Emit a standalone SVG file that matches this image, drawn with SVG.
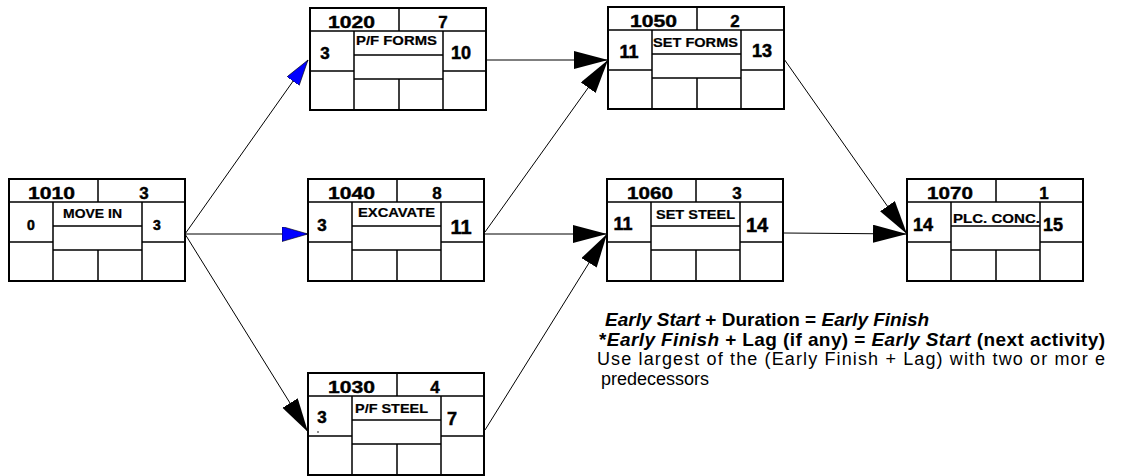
<svg xmlns="http://www.w3.org/2000/svg" xmlns:xlink="http://www.w3.org/1999/xlink" width="1138" height="476" viewBox="0 0 1138 476">
<style>
.ln{stroke:#000;stroke-width:1.5;fill:none}
.ob{stroke:#000;stroke-width:2;fill:#fff}
.hd{font-family:"Liberation Sans",Arial,sans-serif;font-weight:bold;font-size:17px;fill:#000;stroke:#000;stroke-width:0.4}
.nm{font-family:"Liberation Sans",Arial,sans-serif;font-weight:bold;font-size:12px;fill:#000;stroke:#000;stroke-width:0.2}
.es{font-family:"Liberation Sans",Arial,sans-serif;font-weight:bold;font-size:18px;fill:#000;text-anchor:middle;stroke:#000;stroke-width:0.5}
.tx{font-family:"Liberation Sans",Arial,sans-serif;font-size:18px;fill:#000}
.b{font-weight:bold;font-size:19px}
.bi{font-weight:bold;font-style:italic}
.cn{stroke:#000;stroke-width:1;fill:none}
</style>
<defs>
<marker id="ab" markerUnits="userSpaceOnUse" markerWidth="28" markerHeight="16" refX="26" refY="7.5" orient="auto" viewBox="0 0 28 16">
<path d="M0,0 L26,7.5 L0,15 z" fill="#0000ff" stroke="#000" stroke-width="0.6"/>
</marker>
<marker id="ak" markerUnits="userSpaceOnUse" markerWidth="36" markerHeight="20" refX="34" refY="9" orient="auto" viewBox="0 0 36 20">
<path d="M0,0 L34,9 L0,18 z" fill="#000"/>
</marker>
<g id="grid">
<rect class="ob" x="0" y="0" width="176" height="102"/>
<path class="ln" d="M0,23H176M89,0V23M44,23V102M133,23V102M44,47H133M44,71H133M0,63H44M133,63H176M89,71V102"/>
</g>
</defs>
<g id="connectors">
<line class="cn" x1="185" y1="234" x2="308" y2="60" marker-end="url(#ab)"/>
<line class="cn" x1="185" y1="234" x2="308" y2="234" marker-end="url(#ab)"/>
<line class="cn" x1="185" y1="234" x2="308" y2="432" marker-end="url(#ak)"/>
<line class="cn" x1="485" y1="60" x2="608" y2="60" marker-end="url(#ak)"/>
<line class="cn" x1="485" y1="232" x2="608" y2="60" marker-end="url(#ak)"/>
<line class="cn" x1="485" y1="234" x2="607" y2="234" marker-end="url(#ak)"/>
<line class="cn" x1="485" y1="430" x2="607" y2="234" marker-end="url(#ak)"/>
<line class="cn" x1="784" y1="59" x2="907" y2="234" marker-end="url(#ak)"/>
<line class="cn" x1="784" y1="233" x2="907" y2="234" marker-end="url(#ak)"/>
</g>
<g id="n1010">
<use xlink:href="#grid" x="9" y="179"/>
<text class="hd" x="28" y="199" textLength="47" lengthAdjust="spacingAndGlyphs">1010</text>
<text class="hd" x="144" y="199" text-anchor="middle">3</text>
<text class="nm" x="63" y="218" textLength="59" lengthAdjust="spacingAndGlyphs">MOVE IN</text>
<text class="es" x="31" y="230" style="font-size:14px">0</text>
<text class="es" x="157" y="230" style="font-size:14px">3</text>
</g>
<g id="n1020">
<use xlink:href="#grid" x="310" y="8"/>
<text class="hd" x="328" y="28" textLength="47" lengthAdjust="spacingAndGlyphs">1020</text>
<text class="hd" x="443" y="28" text-anchor="middle">7</text>
<text class="nm" x="356" y="45" textLength="81" lengthAdjust="spacingAndGlyphs">P/F FORMS</text>
<text class="es" x="325" y="59" style="font-size:17px">3</text>
<text class="es" x="461" y="59">10</text>
</g>
<g id="n1040">
<use xlink:href="#grid" x="308" y="179"/>
<text class="hd" x="328" y="199" textLength="47" lengthAdjust="spacingAndGlyphs">1040</text>
<text class="hd" x="437" y="199" text-anchor="middle">8</text>
<text class="nm" x="358" y="217" textLength="77" lengthAdjust="spacingAndGlyphs">EXCAVATE</text>
<text class="es" x="322" y="231" style="font-size:17px">3</text>
<text class="es" x="461" y="234" style="font-size:20px">11</text>
</g>
<g id="n1030">
<use xlink:href="#grid" x="308" y="373"/>
<text class="hd" x="328" y="393" textLength="47" lengthAdjust="spacingAndGlyphs">1030</text>
<text class="hd" x="435" y="393" text-anchor="middle">4</text>
<text class="nm" x="355" y="413" textLength="73" lengthAdjust="spacingAndGlyphs">P/F STEEL</text>
<text class="es" x="322" y="423" style="font-size:17px">3</text>
<circle cx="318" cy="432" r="0.8" fill="#000"/>
<text class="es" x="452" y="425">7</text>
</g>
<g id="n1050">
<use xlink:href="#grid" x="608" y="7"/>
<text class="hd" x="630" y="27" textLength="47" lengthAdjust="spacingAndGlyphs">1050</text>
<text class="hd" x="735" y="27" text-anchor="middle">2</text>
<text class="nm" x="653" y="47" textLength="85" lengthAdjust="spacingAndGlyphs">SET FORMS</text>
<text class="es" x="629" y="58">11</text>
<text class="es" x="762" y="57">13</text>
</g>
<g id="n1060">
<use xlink:href="#grid" x="607" y="179"/>
<text class="hd" x="627" y="199" textLength="46" lengthAdjust="spacingAndGlyphs">1060</text>
<text class="hd" x="737" y="199" text-anchor="middle">3</text>
<text class="nm" x="656" y="219" textLength="79" lengthAdjust="spacingAndGlyphs">SET STEEL</text>
<text class="es" x="623" y="230">11</text>
<text class="es" x="757" y="232" style="font-size:20px">14</text>
</g>
<g id="n1070">
<use xlink:href="#grid" x="907" y="179"/>
<text class="hd" x="927" y="199" textLength="46" lengthAdjust="spacingAndGlyphs">1070</text>
<text class="hd" x="1044" y="199" text-anchor="middle">1</text>
<text class="nm" x="953" y="223" textLength="87" lengthAdjust="spacingAndGlyphs">PLC. CONC.</text>
<text class="es" x="923" y="231">14</text>
<text class="es" x="1053" y="231">15</text>
</g>
<g id="notes">
<text class="tx b" x="605" y="326"><tspan class="bi">Early Start</tspan> + Duration = <tspan class="bi">Early Finish</tspan></text>
<text class="tx b" x="599" y="346" textLength="506" lengthAdjust="spacing">*<tspan class="bi">Early Finish</tspan> + Lag (if any) = <tspan class="bi">Early Start</tspan> (next activity)</text>
<text class="tx" x="597" y="365" textLength="508" lengthAdjust="spacing">Use largest of the (Early Finish + Lag) with two or mor e</text>
<text class="tx" x="601" y="385">predecessors</text>
</g>
</svg>
